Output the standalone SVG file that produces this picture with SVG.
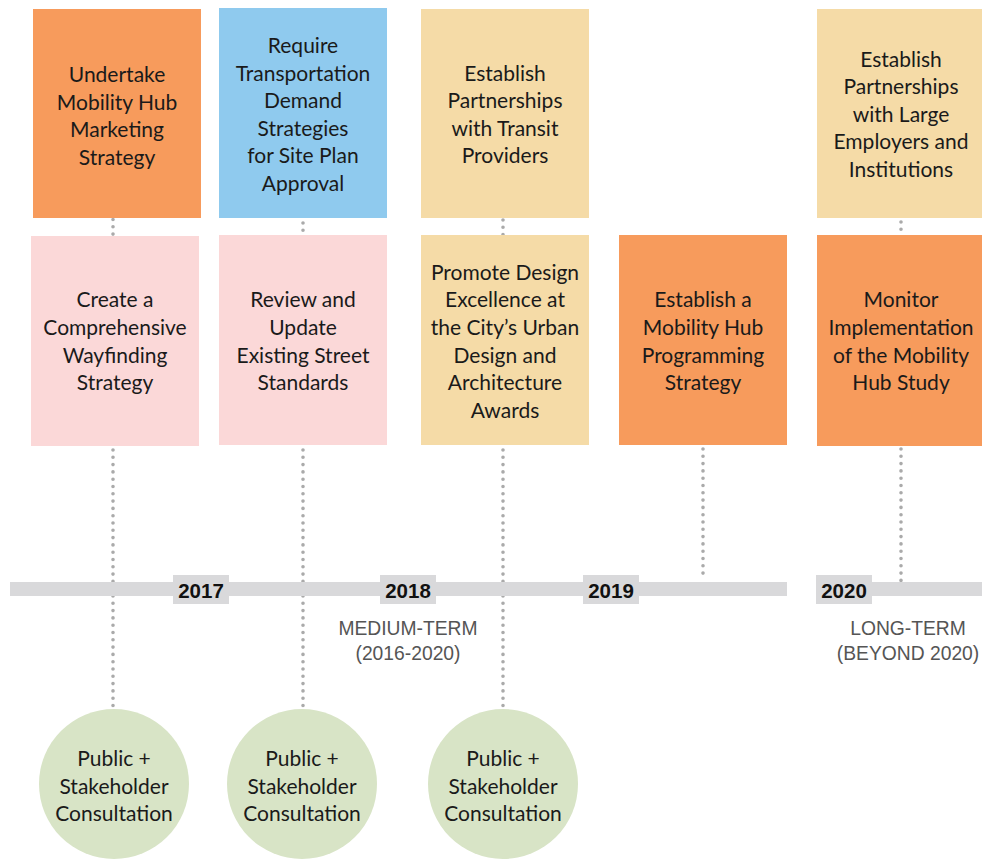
<svg xmlns="http://www.w3.org/2000/svg" width="982" height="859" viewBox="0 0 982 859">
<style>
.box text,.circ text{font-family:Lato,"Liberation Sans",sans-serif;font-size:21px;fill:#1a1a1a;text-anchor:middle}
.orange{fill:#F79B5C}.blue{fill:#8FCAEE}.pink{fill:#FBD8D8}.tan{fill:#F5DBA7}.green{fill:#D8E4C6}
.dot{stroke:#AAAAAA;stroke-width:3.6;stroke-linecap:round;stroke-dasharray:0 7.3;fill:none}
.bar{fill:#D9D9DB}
.year text{font-family:"Liberation Sans",Arial,sans-serif;font-weight:bold;font-size:20.5px;fill:#111;text-anchor:middle}
.term{font-family:"Liberation Sans",Arial,sans-serif;font-size:19.3px;fill:#555;text-anchor:middle}
</style>
<rect width="982" height="859" fill="#fff"/>
<g id="connectors">
<line class="dot" x1="113" y1="219.5" x2="113" y2="236"/>
<line class="dot" x1="303" y1="223" x2="303" y2="235"/>
<line class="dot" x1="503" y1="220" x2="503" y2="235"/>
<line class="dot" x1="901" y1="222" x2="901" y2="235"/>
<line class="dot" x1="113" y1="450" x2="113" y2="708"/>
<line class="dot" x1="303" y1="450" x2="303" y2="708"/>
<line class="dot" x1="503" y1="450" x2="503" y2="708"/>
<line class="dot" x1="703" y1="449" x2="703" y2="578"/>
<line class="dot" x1="901" y1="449" x2="901" y2="584"/>
</g>
<g id="timeline">
<rect class="bar" x="10" y="582" width="777" height="14"/>
<rect class="bar" x="816" y="582" width="166" height="14"/>
</g>
<g id="y2017" class="year"><rect class="bar" x="173" y="575" width="56" height="29"/><text x="201" y="598">2017</text></g>
<g id="y2018" class="year"><rect class="bar" x="380" y="575" width="56" height="29"/><text x="408" y="598">2018</text></g>
<g id="y2019" class="year"><rect class="bar" x="583" y="575" width="56" height="29"/><text x="611" y="598">2019</text></g>
<g id="y2020" class="year"><rect class="bar" x="816" y="575" width="56" height="29"/><text x="844" y="598">2020</text></g>
<g id="medium-term"><text class="term" x="408" y="635">MEDIUM-TERM</text><text class="term" x="408" y="660">(2016-2020)</text></g>
<g id="long-term"><text class="term" x="908" y="635">LONG-TERM</text><text class="term" x="908" y="660">(BEYOND 2020)</text></g>

<g id="marketing" class="box"><rect class="orange" x="33" y="9" width="168" height="209"/>
<text x="117" y="82">Undertake</text><text x="117" y="109.5">Mobility Hub</text><text x="117" y="137">Marketing</text><text x="117" y="164.5">Strategy</text></g>
<g id="tdm" class="box"><rect class="blue" x="219" y="8" width="168" height="210"/>
<text x="303" y="53">Require</text><text x="303" y="81">Transportation</text><text x="303" y="108">Demand</text><text x="303" y="136">Strategies</text><text x="303" y="163">for Site Plan</text><text x="303" y="191">Approval</text></g>
<g id="transit" class="box"><rect class="tan" x="421" y="9" width="168" height="209"/>
<text x="505" y="81">Establish</text><text x="505" y="108">Partnerships</text><text x="505" y="136">with Transit</text><text x="505" y="163">Providers</text></g>
<g id="employers" class="box"><rect class="tan" x="817" y="9" width="165" height="209"/>
<text x="901" y="67">Establish</text><text x="901" y="94">Partnerships</text><text x="901" y="122">with Large</text><text x="901" y="149">Employers and</text><text x="901" y="177">Institutions</text></g>

<g id="wayfinding" class="box"><rect class="pink" x="31" y="236" width="168" height="210"/>
<text x="115" y="307">Create a</text><text x="115" y="335">Comprehensive</text><text x="115" y="363">Wayfinding</text><text x="115" y="390">Strategy</text></g>
<g id="street" class="box"><rect class="pink" x="219" y="235" width="168" height="210"/>
<text x="303" y="307">Review and</text><text x="303" y="335">Update</text><text x="303" y="363">Existing Street</text><text x="303" y="390">Standards</text></g>
<g id="design" class="box"><rect class="tan" x="421" y="235" width="168" height="210"/>
<text x="505" y="280">Promote Design</text><text x="505" y="307">Excellence at</text><text x="505" y="335">the City’s Urban</text><text x="505" y="363">Design and</text><text x="505" y="390">Architecture</text><text x="505" y="418">Awards</text></g>
<g id="programming" class="box"><rect class="orange" x="619" y="235" width="168" height="210"/>
<text x="703" y="307">Establish a</text><text x="703" y="335">Mobility Hub</text><text x="703" y="363">Programming</text><text x="703" y="390">Strategy</text></g>
<g id="monitor" class="box"><rect class="orange" x="817" y="235" width="165" height="211"/>
<text x="901" y="307">Monitor</text><text x="901" y="335">Implementation</text><text x="901" y="363">of the Mobility</text><text x="901" y="390">Hub Study</text></g>

<g id="consult1" class="circ"><circle class="green" cx="114" cy="784" r="75"/>
<text x="114" y="766">Public +</text><text x="114" y="794">Stakeholder</text><text x="114" y="821">Consultation</text></g>
<g id="consult2" class="circ"><circle class="green" cx="302" cy="784" r="75"/>
<text x="302" y="766">Public +</text><text x="302" y="794">Stakeholder</text><text x="302" y="821">Consultation</text></g>
<g id="consult3" class="circ"><circle class="green" cx="503" cy="784" r="75"/>
<text x="503" y="766">Public +</text><text x="503" y="794">Stakeholder</text><text x="503" y="821">Consultation</text></g>
</svg>
